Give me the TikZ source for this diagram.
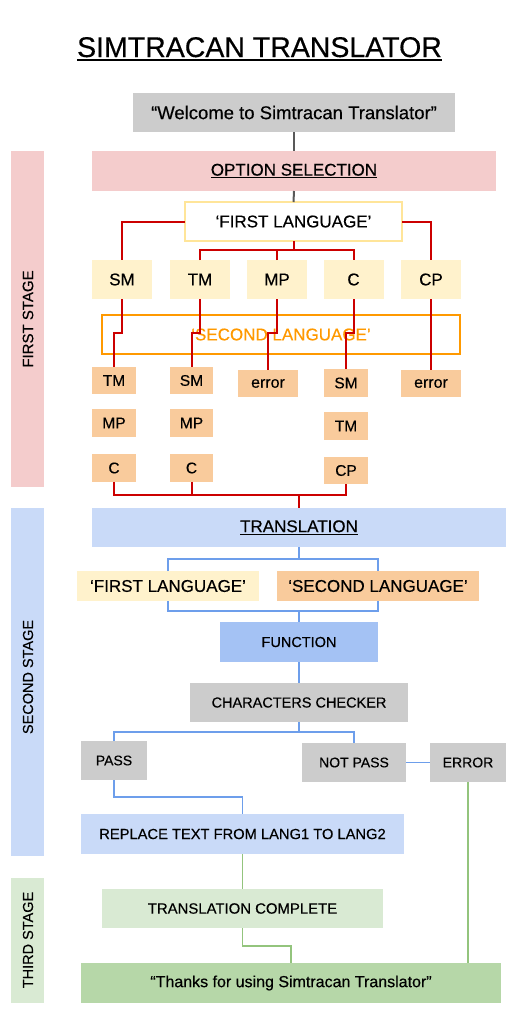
\documentclass[tikz,border=0pt]{standalone}
\usepackage{fontspec}
\setmainfont{Liberation Sans}[FakeBold=0.35]
\definecolor{cpink}{HTML}{F4CCCC}
\definecolor{cyel}{HTML}{FFF2CC}
\definecolor{cyelb}{HTML}{FFE599}
\definecolor{corg}{HTML}{F9CB9C}
\definecolor{corgb}{HTML}{FF9900}
\definecolor{clblue}{HTML}{C9DAF8}
\definecolor{cblue}{HTML}{A4C2F4}
\definecolor{cgray}{HTML}{CCCCCC}
\definecolor{clgreen}{HTML}{D9EAD3}
\definecolor{cgreen}{HTML}{B6D7A8}
\definecolor{lred}{HTML}{CC0000}
\definecolor{lblue}{HTML}{6D9EEB}
\definecolor{lgreen}{HTML}{93C47D}
\definecolor{lgray}{HTML}{595959}
\newcommand\ulin[1]{\setbox0\hbox{#1}\rlap{\copy0}\rule[-2.6pt]{\wd0}{1.2pt}}
\tikzset{
  box/.style={inner sep=0pt, outer sep=0pt, text=black},
  fs/.style={font=\fontsize{#1}{#1}\selectfont},
  redl/.style={draw=lred, line width=2pt},
  bluel/.style={draw=lblue, line width=1.6pt},
  greenl/.style={draw=lgreen, line width=1.5pt},
  grayl/.style={draw=lgray, line width=2pt},
}
\begin{document}
\begin{tikzpicture}[x=1pt,y=-1pt]
\useasboundingbox (0,0) rectangle (528,1020);
% title
\node[box, fs=28.5, anchor=base] (title) at (259.5,57) {SIMTRACAN TRANSLATOR};
\draw[line width=1.7pt] ([yshift=-3pt]title.base west) -- ([yshift=-3pt]title.base east);
% stage bars
\node[box, fill=cpink, minimum width=33, minimum height=336] (st1) at (27.5,319) {};
\node[box, fs=15, rotate=90] (st1t) at (28,319) {FIRST STAGE};
\node[box, fill=clblue, minimum width=33, minimum height=348] (st2) at (27.5,682) {};
\node[box, fs=14.5, rotate=90] (st2t) at (28,677) {SECOND STAGE};
\node[box, fill=clgreen, minimum width=33, minimum height=125] (st3) at (27.5,940.5) {};
\node[box, fs=14.5, rotate=90] (st3t) at (28,940) {THIRD STAGE};
% top
\node[box, fill=cgray, minimum width=322, minimum height=39, fs=18.5] (wel) at (294,112.5) {“Welcome to Simtracan Translator”};
\node[box, fill=cpink, minimum width=404, minimum height=40, fs=17] (opt) at (294,171) {\ulin{OPTION SELECTION}};
\node[box, fill=white, draw=cyelb, line width=2pt, minimum width=217, minimum height=39, fs=17] (fl1) at (293.5,221.5) {‘FIRST LANGUAGE’};
% first row
\foreach \n/\t/\x in {sm/SM/122, tm/TM/200, mp/MP/277, c/C/353.5, cp/CP/431}{
  \node[box, fill=cyel, minimum width=60, minimum height=39, fs=17] (\n) at (\x,279.5) {\t};
}
\node[box, draw=corgb, line width=1.8pt, minimum width=358, minimum height=39, fs=17, text=corgb] (sl1) at (281,334.5) {‘SECOND LANGUAGE’};
% second rows
\tikzset{ob/.style={box, fill=corg, minimum height=27.5, fs=15.5}}
\node[ob, minimum width=44] (tm1) at (114,380.5) {TM};
\node[ob, minimum width=43] (sm1) at (191.5,380.5) {SM};
\node[ob, minimum width=60, fs=16] (er1) at (268,383.5) {error};
\node[ob, minimum width=44] (sm2) at (346,383) {SM};
\node[ob, minimum width=60, fs=16] (er2) at (431,383.5) {error};
\node[ob, minimum width=44] (mp1) at (114,423) {MP};
\node[ob, minimum width=43] (mp2) at (191.5,423) {MP};
\node[ob, minimum width=44] (tm2) at (346,426) {TM};
\node[ob, minimum width=44] (c1) at (114,468) {C};
\node[ob, minimum width=43] (c2) at (191.5,468) {C};
\node[ob, minimum width=44] (cp2) at (346,470.5) {CP};
% connectors top
\draw[grayl] (wel.south) -- (opt.north);
\draw[grayl] (opt.south) -- (fl1.north);
\coordinate (j1) at (293.5,250);
\draw[redl] (fl1.west) -| (sm.north);
\draw[redl] (fl1.east) -| (cp.north);
\draw[redl] (fl1.south) -- (j1);
\draw[redl] (tm.north) |- (j1) -| (c.north);
\draw[redl] (mp.north) -- (mp.north |- j1);
\draw[redl] (sm.south) -- ++(0,34) -| (tm1.north);
\draw[redl] (tm.south) -- ++(0,34) -| (sm1.north);
\draw[redl] (mp.south) -- ++(0,34) -| (er1.north);
\draw[redl] (c.south) -- ++(0,34) -| (sm2.north);
\draw[redl] (cp.south) -- (er2.north);
% translation
\node[box, fill=clblue, minimum width=414, minimum height=39, fs=17] (trans) at (299,527.5) {\ulin{TRANSLATION}};
\coordinate (j2) at (299,495);
\draw[redl] (c1.south) |- (j2) -| (cp2.south);
\draw[redl] (c2.south) -- (c2.south |- j2);
\draw[redl] (j2) -- (trans.north);
% second stage
\node[box, fill=cyel, minimum width=182, minimum height=30, fs=17] (fl2) at (168,586) {‘FIRST LANGUAGE’};
\node[box, fill=corg, minimum width=202, minimum height=30, fs=17] (sl2) at (378,586) {‘SECOND LANGUAGE’};
\node[box, fill=cblue, minimum width=158, minimum height=40, fs=14.5] (func) at (299,642) {FUNCTION};
\node[box, fill=cgray, minimum width=218, minimum height=39, fs=14.5] (chk) at (299,702.5) {CHARACTERS CHECKER};
\node[box, fill=cgray, minimum width=66, minimum height=39, fs=14] (pass) at (114,760.5) {PASS};
\node[box, fill=cgray, minimum width=104, minimum height=39, fs=14] (npass) at (354,762.5) {NOT PASS};
\node[box, fill=cgray, minimum width=76, minimum height=39, fs=14] (errb) at (468,762.5) {ERROR};
\node[box, fill=clblue, minimum width=323, minimum height=40, fs=14.7] (rep) at (242.5,834) {REPLACE TEXT FROM LANG1 TO LANG2};
\coordinate (j3) at (299,559);
\coordinate (j4) at (299,611);
\coordinate (j5) at (299,732);
\draw[bluel] (trans.south) -- (j3);
\draw[bluel] (fl2.north) |- (j3) -| (sl2.north);
\draw[bluel] (fl2.south) |- (j4) -| (sl2.south);
\draw[bluel] (j4) -- (func.north);
\draw[bluel] (func.south) -- (chk.north);
\draw[bluel] (chk.south) -- (j5);
\draw[bluel] (pass.north) |- (j5) -| (npass.north);
\draw[bluel] (npass.east) -- (errb.west);
\draw[bluel] (pass.south) -- ++(0,17) -| (rep.north);
% third stage
\node[box, fill=clgreen, minimum width=281, minimum height=39, fs=14.9] (tc) at (242.5,908.5) {TRANSLATION COMPLETE};
\node[box, fill=cgreen, minimum width=420, minimum height=40, fs=16] (thx) at (291,983) {“Thanks for using Simtracan Translator”};
\draw[greenl] (rep.south) -- (tc.north);
\draw[greenl] (tc.south) -- ++(0,18) -| (thx.north);
\draw[greenl] (errb.south) -- (errb.south |- thx.north);
\end{tikzpicture}
\end{document}
